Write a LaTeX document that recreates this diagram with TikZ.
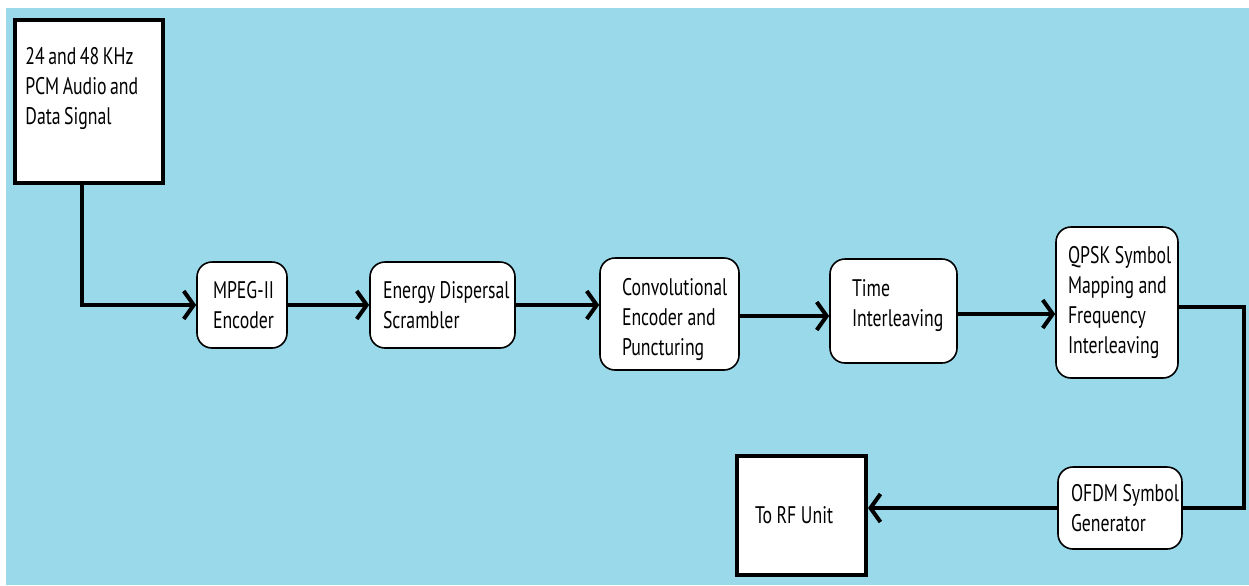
\documentclass[tikz,border=0pt]{standalone}
\usepackage{fontspec}
\setmainfont{PT Sans}[FakeStretch=0.74,WordSpace=0.75]
\usepackage{tikz}
\usetikzlibrary{arrows.meta,positioning,calc}
\definecolor{skyback}{RGB}{153,217,234}
\tikzset{
  blk/.style    ={draw,rounded corners=7.5pt,fill=white,line width=0.8pt,
                  align=left,inner ysep=0pt,font=\fontsize{12}{15}\selectfont,
                  execute at begin node={\spaceskip=.19em\relax}},
  endblk/.style ={draw,fill=white,line width=2pt,inner sep=0pt},
  txt/.style    ={align=left,inner sep=0pt,font=\fontsize{12}{15}\selectfont},
  flow/.style   ={line width=2pt,-{Straight Barb[length=5pt,width=14pt,line width=2pt]}},
  wire/.style   ={line width=2pt},
}
\begin{document}
\begin{tikzpicture}[x=0.5pt,y=-0.5pt]
  \fill[white] (0,0) rectangle (1249,585);
  \fill[skyback] (6,8) rectangle (1249,585);
  \useasboundingbox (0,0) rectangle (1249,585);

  % input and output
  \node[endblk,minimum width=74pt,minimum height=81.5pt] (src) at (89,101.5){};
  \node[txt,anchor=north west] (srctext) at (25,47){24 and 48 KHz\\PCM Audio and\\Data Signal};
  \node[endblk,minimum width=62.5pt,minimum height=59.5pt,inner xsep=9pt,text width=46.5pt,
        align=left,font=\fontsize{12}{15}\selectfont,
        execute at begin node={\spaceskip=.19em\relax}] (rf) at (801.5,515){\mbox{To RF Unit}};

  % processing chain
  \node[blk,minimum height=43pt,inner xsep=8pt,text width=29pt]     (mpeg)   at (242,305){\mbox{MPEG-II}\\Encoder};
  \node[blk,minimum height=43pt,inner xsep=6.5pt,text width=59.5pt] (energy) at (442.5,305){\mbox{Energy Dispersal}\\Scrambler};
  \node[blk,minimum height=56pt,inner xsep=11pt,text width=47.5pt,text height=14pt] (conv) at (669.5,314){\mbox{Convolutional}\\\mbox{Encoder and}\\Puncturing};
  \node[blk,minimum height=52pt,inner xsep=11pt,text width=41.5pt,text depth=23.5pt] (time) at (893.5,311){Time\\\mbox{Interleaving}};
  \node[blk,minimum height=75.5pt,inner xsep=6pt,text width=49pt]   (qpsk)   at (1117,302.5){\mbox{QPSK Symbol}\\\mbox{Mapping and}\\Frequency\\\mbox{Interleaving}};
  \node[blk,minimum height=41pt,inner xsep=6.5pt,text width=49pt]   (ofdm)   at (1120,508){\mbox{OFDM Symbol}\\Generator};

  \coordinate (turn) at (1244,307);

  \draw[flow] ([xshift=-3.5pt]src.south) |- (mpeg.west);
  \draw[flow] (mpeg.east) -- (energy.west);
  \draw[flow] (energy.east) -- (energy.east -| conv.west);
  \draw[flow] ([yshift=-1pt]conv.east) -- ([yshift=-1pt]conv.east -| time.west);
  \draw[flow] ([yshift=-1.5pt]time.east) -- ([yshift=-1.5pt]time.east -| qpsk.west);
  \draw[wire] (qpsk.east |- turn) -- (turn) |- (ofdm.east);
  \draw[flow] (ofdm.west) -- (ofdm.west -| rf.east);
\end{tikzpicture}
\end{document}
